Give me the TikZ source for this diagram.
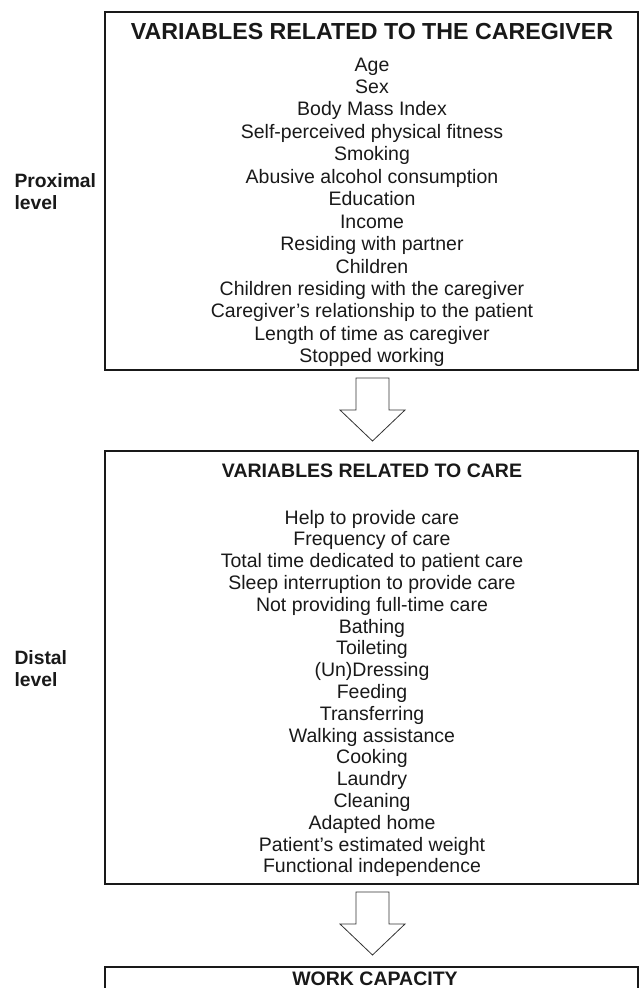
\documentclass[tikz,border=0pt]{standalone}
\usepackage{fontspec}
\setmainfont{Liberation Sans}
\usetikzlibrary{positioning,calc}

\tikzset{
  varbox/.style={draw=black!90, line width=2.4pt},
  boxtitle/.style={font=\bfseries\fontsize{23.2}{26}\selectfont, text=black!90, anchor=base},
  subtitle/.style={font=\bfseries\fontsize{19.5}{22}\selectfont, text=black!90, anchor=base},
  item/.style={font=\fontsize{19.5}{22}\selectfont, text=black!90, anchor=base},
  levellabel/.style={font=\bfseries\fontsize{19.3}{22}\selectfont, text=black!90, align=left, anchor=west},
  blockarrow/.style={draw=black!80, line width=0.8pt, fill=white, line join=miter}
}

\begin{document}
\begin{tikzpicture}[x=1pt, y=-1pt]
\useasboundingbox (0,0) rectangle (640,988);

% ---- Boxes ----
\draw[varbox] (105,12) rectangle (638,370);
\draw[varbox] (105,451) rectangle (638,884);
\draw[varbox] (105,967) rectangle (638,1010);

% ---- Caregiver variables ----
\node[boxtitle] (cgtitle) at (372,39) {VARIABLES RELATED TO THE CAREGIVER};
\foreach \t [count=\i] in {Age, Sex, Body Mass Index,
    Self-perceived physical fitness, Smoking,
    Abusive alcohol consumption, Education, Income,
    Residing with partner, Children,
    Children residing with the caregiver,
    Caregiver’s relationship to the patient,
    Length of time as caregiver, Stopped working}
  \node[item] (cg\i) at (372,{71+22.45*(\i-1)}) {\t};

% ---- Care variables ----
\node[subtitle] (catitle) at (372,477) {VARIABLES RELATED TO CARE};
\foreach \t [count=\i] in {Help to provide care, Frequency of care,
    Total time dedicated to patient care,
    Sleep interruption to provide care,
    Not providing full-time care, Bathing, Toileting,
    (Un)Dressing, Feeding, Transferring, Walking assistance,
    Cooking, Laundry, Cleaning, Adapted home,
    Patient’s estimated weight, Functional independence}
  \node[item] (ca\i) at (372,{524+21.8*(\i-1)}) {\t};

% ---- Outcome ----
\node[subtitle] (wctitle) at (375,985) {WORK CAPACITY};

% ---- Levels ----
\node[levellabel] (proximal) at (11,192) {Proximal\\level};
\node[levellabel] (distal) at (11,669) {Distal\\level};

% ---- Block arrows ----
\coordinate (arr1) at (372.5,378);
\coordinate (arr2) at (372.5,892);
\foreach \a in {arr1, arr2}
  \draw[blockarrow] (\a) ++(-16.5,0) -- ++(33,0) -- ++(0,32) -- ++(16,0)
    -- ++(-32.5,31) -- ++(-32.5,-31) -- ++(16,0) -- cycle;

\end{tikzpicture}
\end{document}
